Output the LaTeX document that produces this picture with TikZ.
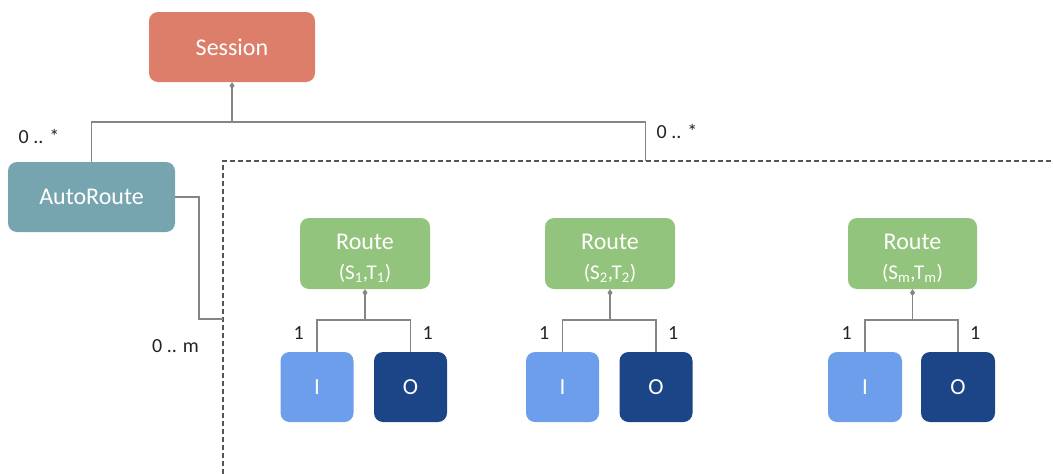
\documentclass[tikz,border=0pt]{standalone}
\usepackage{fontspec}
\setmainfont{Carlito}
\usetikzlibrary{arrows.meta}
\definecolor{sessioncol}{HTML}{DD7E6B}
\definecolor{autocol}{HTML}{76A5AF}
\definecolor{routecol}{HTML}{93C47D}
\definecolor{icol}{HTML}{6D9EEB}
\definecolor{ocol}{HTML}{1C4587}
\definecolor{linecol}{HTML}{858585}
\definecolor{dashcol}{HTML}{555555}
\definecolor{labcol}{HTML}{222222}
\tikzset{
  box/.style={rounded corners=9pt, inner sep=0pt, text=white, font=\fontsize{24}{28}\selectfont, align=center},
  bigbox/.style={box, minimum width=166pt, minimum height=70pt},
  routebox/.style={box, fill=routecol, minimum width=130pt, minimum height=71pt, font=\fontsize{24}{30}\selectfont},
  iobox/.style={box, minimum width=73pt, minimum height=70pt, font=\fontsize{23}{26}\selectfont},
  conn/.style={draw=linecol, line width=1.8pt},
  agg/.style={conn, {Diamond[length=7pt,width=5pt,fill=linecol]}-},
  dashline/.style={draw=dashcol, line width=1.3pt, dash pattern=on 5pt off 3pt},
  lab/.style={text=labcol, font=\fontsize{20}{24}\selectfont, inner sep=0pt, anchor=base},
}
\newcommand{\rtext}[2]{\rule{0pt}{25pt}Route\\{\fontsize{21}{30}\selectfont(S\textsubscript{#1},T\textsubscript{#2})}}
\begin{document}
\begin{tikzpicture}[x=1pt,y=-1pt]
\useasboundingbox (0,0) rectangle (1053,474);
% main nodes
\node[bigbox, fill=sessioncol] (session) at (232,47) {Session};
\node[bigbox, fill=autocol, minimum width=167pt] (auto) at (91.5,197) {AutoRoute};
% dashed frame
\coordinate (boxbl) at (223,474);
\coordinate (boxtl) at (223,161);
\coordinate (boxtr) at (1053,161);
\draw[dashline] (boxbl) -- (boxtl) -- (boxtr);
% session connectors
\coordinate (j0) at (232,122);
\coordinate (dtop) at (645.5,161);
\draw[agg] (session.south) -- (j0);
\draw[conn] (auto.north) |- (j0) -| (dtop);
% autoroute connector
\coordinate (abend) at (199,319);
\coordinate (aend) at (223,319);
\draw[conn] (auto.east) -| (abend) -- (aend);
% labels
\node[lab] (l1) at (39,143) {0 .. *};
\node[lab] (l2) at (677,138) {0 .. *};
\node[lab] (l3) at (175.5,352) {0 .. m};
% routes
\node[routebox] (r1) at (365,253.5) {\rtext{1}{1}};
\node[routebox] (r2) at (610,253.5) {\rtext{2}{2}};
\node[routebox, minimum width=129pt] (r3) at (912.5,253.5) {\rtext{m}{m}};
% I/O boxes
\node[iobox, fill=icol] (i1) at (317,387) {I};
\node[iobox, fill=ocol] (o1) at (410.5,387) {O};
\node[iobox, fill=icol] (i2) at (562.5,387) {I};
\node[iobox, fill=ocol] (o2) at (656,387) {O};
\node[iobox, fill=icol, minimum width=74pt] (i3) at (865,387) {I};
\node[iobox, fill=ocol, minimum width=74pt] (o3) at (958,387) {O};
% route connectors
\foreach \r/\i/\o in {r1/i1/o1, r2/i2/o2, r3/i3/o3}{
  \coordinate (\r j) at ([yshift=-30.5pt]\r.south);
  \draw[agg] (\r.south) -- (\r j);
  \draw[conn] (\i.north) |- (\r j) -| (\o.north);
  \node[lab, anchor=base east] (\i lab) at ([xshift=-13pt,yshift=12pt]\i.north) {1};
  \node[lab, anchor=base west] (\o lab) at ([xshift=12pt,yshift=12pt]\o.north) {1};
}
\end{tikzpicture}
\end{document}
